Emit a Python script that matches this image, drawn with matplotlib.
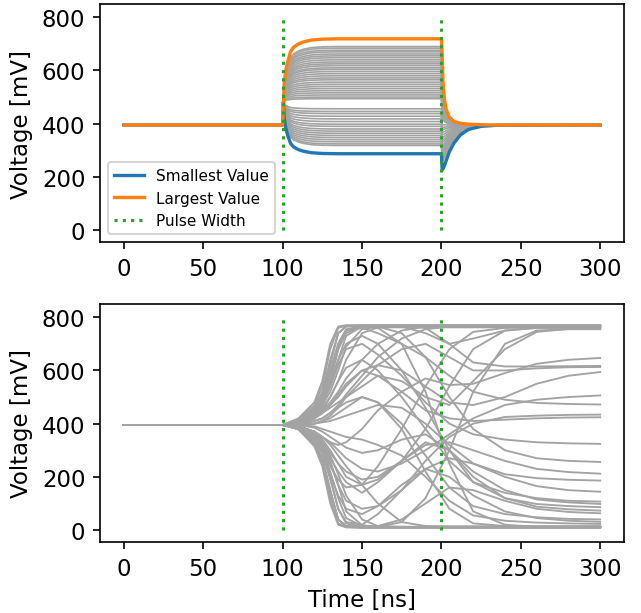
import matplotlib
matplotlib.use("Agg")
import matplotlib.pyplot as plt

# -----------------------------
# данные
# -----------------------------
v_rest = 395          # мВ до импульса и после
pulse_start = 100
pulse_end = 200

# верхний график: установившиеся уровни во время импульса
gray_levels = [690, 684, 676, 670, 662, 655, 648, 640, 632, 625, 618, 610, 604,
               596, 588, 580, 572, 565, 556, 548, 540, 532, 524, 516, 508, 500,
               494, 456, 446, 438, 428, 418, 408, 398, 390, 380, 372, 364, 356,
               348, 340, 332, 324, 318]
smallest_level = 287
largest_level = 719

jump_on = 480         # скачок в начале импульса
jump_off = -60        # скачок в конце импульса

# доля пройденного пути к уровню после начала импульса
rise_t = [100.5, 101, 102, 103, 105, 107, 110, 113, 118, 125, 135, 200]
rise_frac = [0, 0.3, 0.5, 0.62, 0.8, 0.87, 0.92, 0.95, 0.98, 0.995, 1, 1]

# доля оставшегося отклонения после конца импульса (вверх / вниз)
fall_t = [200.5, 201, 202, 203, 205, 208, 212, 217, 225, 235, 300]
fall_frac_hi = [1, 0.6, 0.35, 0.22, 0.11, 0.05, 0.025, 0.012, 0.004, 0, 0]
fall_frac_lo = [1, 0.98, 0.9, 0.8, 0.6, 0.4, 0.22, 0.1, 0.03, 0.005, 0]

# нижний график: кривые в моменты времени
t_bottom = [110, 120, 125, 130, 135, 140, 150, 160, 175, 190, 205, 220, 240, 260, 280, 300]
bottom_curves = [
    [420, 480, 560, 700, 765, 770, 770, 770, 770, 770, 770, 770, 770, 770, 770, 770],
    [415, 470, 540, 680, 760, 768, 770, 770, 770, 770, 770, 770, 770, 770, 770, 770],
    [410, 455, 510, 620, 740, 766, 768, 768, 768, 768, 768, 768, 768, 768, 768, 768],
    [410, 450, 495, 580, 700, 755, 766, 766, 766, 766, 766, 766, 766, 766, 766, 766],
    [405, 440, 480, 540, 640, 730, 765, 765, 765, 765, 765, 765, 765, 765, 765, 765],
    [405, 430, 460, 500, 560, 640, 740, 762, 762, 762, 762, 762, 762, 762, 762, 762],
    [390, 360, 330, 290, 250, 220, 190, 200, 260, 380, 540, 680, 750, 760, 760, 760],
    [400, 420, 440, 460, 480, 500, 540, 580, 560, 500, 470, 560, 680, 745, 756, 758],
    [380, 330, 270, 150, 40, 15, 12, 12, 30, 120, 300, 520, 700, 750, 755, 755],
    [400, 430, 470, 520, 600, 690, 755, 765, 765, 740, 700, 720, 750, 760, 762, 762],
    [395, 410, 420, 440, 470, 510, 580, 650, 720, 755, 765, 765, 765, 765, 765, 765],
    [385, 350, 300, 240, 190, 160, 170, 240, 380, 540, 680, 745, 760, 762, 763, 763],
    [405, 440, 485, 560, 680, 750, 768, 768, 768, 768, 768, 768, 768, 768, 768, 768],
    [402, 425, 450, 480, 520, 570, 640, 700, 750, 765, 768, 768, 768, 768, 768, 768],
    [390, 370, 350, 330, 320, 330, 380, 450, 520, 570, 545, 550, 590, 625, 640, 647],
    [410, 460, 520, 640, 740, 765, 768, 768, 768, 760, 700, 630, 615, 615, 616, 617],
    [395, 400, 410, 430, 460, 500, 560, 620, 680, 700, 650, 600, 600, 608, 612, 613],
    [400, 420, 440, 470, 500, 540, 600, 620, 600, 540, 480, 470, 500, 550, 580, 594],
    [390, 370, 350, 330, 300, 270, 230, 220, 250, 300, 360, 420, 470, 490, 500, 506],
    [410, 460, 510, 600, 700, 750, 760, 740, 700, 650, 580, 520, 490, 478, 474, 472],
    [385, 340, 290, 190, 80, 30, 20, 60, 150, 260, 350, 400, 425, 430, 433, 434],
    [400, 420, 440, 470, 510, 550, 600, 580, 520, 450, 420, 410, 415, 420, 423, 424],
    [400, 430, 470, 540, 620, 680, 700, 660, 580, 480, 400, 360, 340, 330, 326, 324],
    [410, 450, 500, 580, 680, 740, 765, 765, 740, 650, 500, 380, 300, 270, 260, 256],
    [390, 370, 340, 300, 250, 200, 170, 190, 260, 320, 330, 300, 260, 230, 218, 212],
    [395, 400, 405, 410, 420, 430, 450, 470, 460, 400, 320, 250, 210, 195, 189, 186],
    [385, 350, 310, 250, 170, 110, 80, 90, 150, 230, 270, 250, 200, 165, 150, 144],
    [400, 420, 450, 500, 560, 610, 640, 600, 500, 380, 260, 180, 140, 120, 110, 107],
    [390, 360, 320, 270, 220, 180, 140, 180, 260, 330, 300, 220, 150, 115, 104, 98],
    [405, 440, 480, 550, 640, 700, 730, 700, 600, 460, 300, 180, 120, 98, 90, 86],
    [395, 385, 370, 350, 330, 310, 290, 300, 340, 360, 300, 200, 120, 88, 78, 73],
    [380, 330, 260, 140, 40, 15, 12, 15, 40, 100, 160, 150, 110, 80, 68, 63],
    [400, 410, 420, 440, 460, 480, 500, 480, 400, 280, 160, 90, 60, 48, 42, 40],
    [385, 340, 290, 210, 130, 80, 60, 90, 170, 230, 200, 130, 70, 45, 35, 31],
    [395, 390, 380, 370, 360, 350, 340, 320, 280, 200, 110, 55, 35, 28, 25, 23],
    [380, 320, 250, 120, 25, 12, 10, 10, 10, 10, 10, 10, 10, 10, 10, 10],
    [378, 315, 240, 100, 20, 10, 8, 8, 8, 8, 8, 8, 8, 8, 8, 8],
    [385, 340, 290, 200, 80, 25, 12, 12, 12, 12, 12, 12, 12, 12, 12, 12],
    [385, 345, 300, 220, 120, 45, 15, 12, 12, 12, 12, 12, 12, 12, 12, 12],
    [390, 360, 330, 280, 210, 130, 40, 15, 12, 12, 12, 12, 12, 12, 12, 12],
    [390, 370, 350, 320, 280, 240, 170, 100, 30, 15, 14, 14, 14, 14, 14, 14],
    [395, 400, 410, 420, 440, 460, 500, 480, 380, 220, 80, 25, 15, 14, 14, 14],
    [405, 440, 480, 560, 680, 750, 765, 760, 700, 520, 250, 70, 20, 12, 11, 11],
    [380, 330, 270, 150, 40, 14, 10, 10, 10, 10, 10, 10, 10, 10, 10, 10],
    [388, 355, 320, 260, 170, 70, 18, 12, 11, 11, 11, 11, 11, 11, 11, 11],
]

x_ticks = [0, 50, 100, 150, 200, 250, 300]
y_ticks = [0, 200, 400, 600, 800]


def pulse_response(level):
    """Кривая верхнего графика для заданного уровня."""
    t = [0, pulse_start] + rise_t
    v = [v_rest, v_rest] + [jump_on + (level - jump_on) * f for f in rise_frac]
    q = level + jump_off
    frac = fall_frac_hi if q > v_rest else fall_frac_lo
    t += fall_t
    v += [v_rest + (q - v_rest) * f for f in frac]
    return t, v


plt.rcParams['font.size'] = 11

fig, (ax1, ax2) = plt.subplots(2, 1, figsize=(6.41 / 1.5, 6.14 / 1.5), dpi=150)
fig.subplots_adjust(left=0.156, right=0.9735, top=0.9919, bottom=0.1156, hspace=0.26)

gray = '#a3a3a3'

# верхний график
for lvl in gray_levels:
    t, v = pulse_response(lvl)
    ax1.plot(t, v, color=gray, lw=0.8)
t, v = pulse_response(smallest_level)
ax1.plot(t, v, color='tab:blue', lw=1.6, label='Smallest Value')
t, v = pulse_response(largest_level)
ax1.plot(t, v, color='tab:orange', lw=1.6, label='Largest Value')
ax1.plot([pulse_start, pulse_start], [0, 800], ':', color='tab:green', lw=1.5, label='Pulse Width')
ax1.plot([pulse_end, pulse_end], [0, 800], ':', color='tab:green', lw=1.5)
ax1.set_ylabel('Voltage [mV]')
ax1.legend(loc='lower left', fontsize=7.3)

# нижний график
t_full = [0, pulse_start] + t_bottom
for curve in bottom_curves:
    ax2.plot(t_full, [v_rest, v_rest] + curve, color=gray, lw=0.9)
ax2.plot([pulse_start, pulse_start], [0, 800], ':', color='tab:green', lw=1.5)
ax2.plot([pulse_end, pulse_end], [0, 800], ':', color='tab:green', lw=1.5)
ax2.set_ylabel('Voltage [mV]')
ax2.set_xlabel('Time [ns]')

for ax in (ax1, ax2):
    ax.set_xlim(-15, 315)
    ax.set_ylim(-45, 850)
    ax.set_xticks(x_ticks)
    ax.set_yticks(y_ticks)

plt.savefig('out.png', dpi=150)
